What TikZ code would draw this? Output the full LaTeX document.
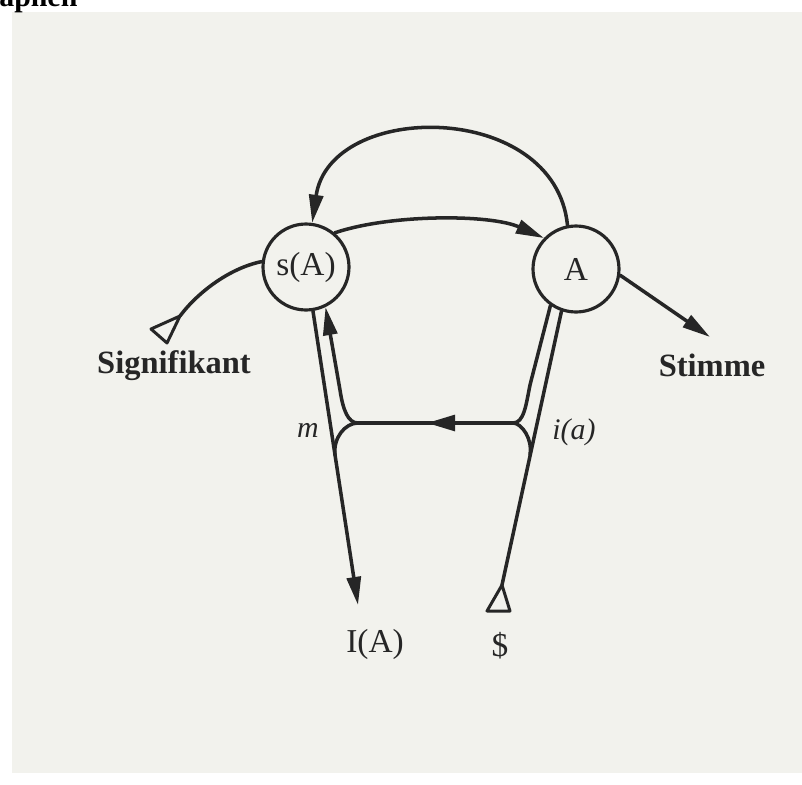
\documentclass[tikz,border=0pt]{standalone}
\usepackage{fontspec}
\setmainfont{Liberation Serif}
\usetikzlibrary{arrows.meta,decorations.markings}
\definecolor{ink}{HTML}{262626}
\definecolor{paper}{HTML}{F2F2ED}
\begin{document}
\begin{tikzpicture}[x=0.02cm,y=-0.02cm,
  line/.style={draw=ink, line width=2pt, line cap=round},
  tip/.style={-{Triangle[length=16pt,width=8pt]}},
  circ/.style={circle, draw=ink, line width=1.8pt, minimum size=1.72cm, inner sep=0pt,
    font=\fontsize{19}{22}\selectfont, text=ink},
  lab/.style={font=\fontsize{18.5}{22}\selectfont\bfseries, text=ink},
  sym/.style={font=\fontsize{19}{22}\selectfont, text=ink},
  ital/.style={font=\fontsize{17}{20}\selectfont\itshape, text=ink},
  hollow/.style={draw=ink, line width=1.7pt, line join=round, fill=paper},
  midtip/.style={decoration={markings, mark=at position #1 with {\arrow{Triangle[length=16pt,width=9pt]}}}, postaction={decorate}}
]
\useasboundingbox (0,0) rectangle (802,785);
\fill[paper] (12,12) rectangle (802,773);
\node[anchor=base west, font=\fontsize{17}{20}\selectfont\bfseries, inner sep=0pt] (hdr) at (-1,6) {aphen};

% circles
\node[circ] (sA) at (306,267) {s(A)};
\node[circ] (A) at (576,269) {A};

% arcs on top
\draw[line, tip] (A.101) .. controls (555,100) and (330,100) .. (sA.82);
\draw[line, tip] (sA.50) .. controls (390,214) and (490,214) .. (A.136);

% Signifikant
\coordinate (sigT) at (180,316);
\draw[line] (sA.173) .. controls (230,268) and (198,292) .. (sigT);
\draw[hollow] (sigT) -- (151,329) -- (167,343) -- cycle;
\node[lab] (sig) at (174,366) {Signifikant};

% Stimme
\coordinate (stT) at (710,337);
\draw[line, tip] (A.-8) -- (stT);
\node[lab] (stim) at (712,365) {Stimme};

% lower structure
\coordinate (LF) at (358,423);
\coordinate (RF) at (513,423);
\coordinate (IAt) at (358,605);
\coordinate (St) at (502,585);

\draw[line, tip] (sA.-81) -- (IAt);
\draw[line, {Triangle[length=16pt,width=8pt]}-] (sA.-64) -- (340,390) .. controls (343,410) and (348,423) .. (LF);
\draw[line, midtip=0.555] (RF) -- (LF);
\draw[line] (LF) .. controls (345,423) and (333,438) .. (335,455);
\draw[line] (A.-125) -- (530,385) .. controls (526,405) and (524,423) .. (RF);
\draw[line] (RF) .. controls (522,423) and (533,440) .. (530,455);
\draw[line] (A.-109) -- (St);
\draw[hollow] (St) -- (487,611) -- (510,611) -- cycle;

\node[ital] (m) at (308,430) {m};
\node[ital] (ia) at (574,432) {i(a)};
\node[sym] (IA) at (375,644) {I(A)};
\node[sym] (S) at (500,646) {\$};
\end{tikzpicture}
\end{document}
